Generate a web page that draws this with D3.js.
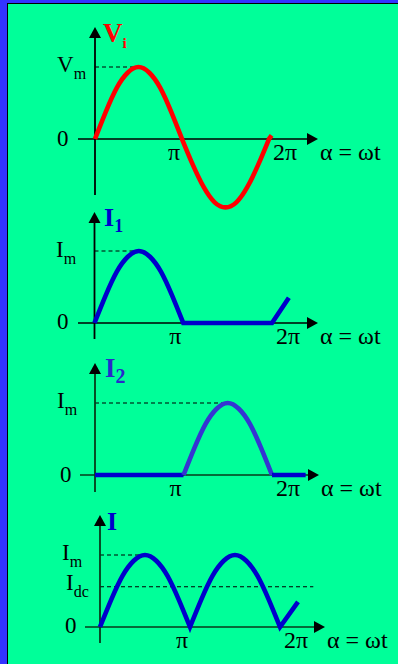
<!DOCTYPE html>
<html>
<head>
<meta charset="utf-8">
<script src="https://cdn.jsdelivr.net/npm/d3@7"></script>
<style>
html,body{margin:0;padding:0;background:#00FF99;}
svg{display:block;}
text{font-family:"Liberation Serif","Times New Roman",serif;}
</style>
</head>
<body>
<svg id="chart" width="398" height="664"></svg>
<script>
// ---- data (alpha in units of π, values normalised to the peak) ----
const alphaPi  = [0, 0.125, 0.25, 0.375, 0.5, 0.625, 0.75, 0.875, 1, 1.125, 1.25, 1.375, 1.5, 1.625, 1.75, 1.875, 2];
const viValues = [0, 0.38, 0.71, 0.92, 1, 0.92, 0.71, 0.38, 0, -0.36, -0.67, -0.88, -0.95, -0.88, -0.67, -0.36, 0];
const i1Values = [0, 0.38, 0.71, 0.92, 1, 0.92, 0.71, 0.38, 0, 0, 0, 0, 0, 0, 0, 0, 0];
const i2Values = [0, 0, 0, 0, 0, 0, 0, 0, 0, 0.38, 0.71, 0.92, 1, 0.92, 0.71, 0.38, 0];
const iValues  = [0, 0.38, 0.71, 0.92, 1, 0.92, 0.71, 0.38, 0, 0.38, 0.71, 0.92, 1, 0.92, 0.71, 0.38, 0];
const viTailAlpha = [2.03], viTailValue = [0.05];
const i1TailAlpha = [2.19], i1TailValue = [0.35];
const i2TailAlpha = [2.38], i2TailValue = [0];
const iTailAlpha  = [2.2],  iTailValue  = [0.35];
const idcLevel = 0.56;
const xTickLabels = ["π", "2π"];
const xAxisTitle = "α = ωt";

// ---- layout ----
const panels = [
  {values: viValues, tailA: viTailAlpha, tailV: viTailValue, color: "#FF0000", flat: "#FF0000",
   x0: 95, x2: 269, y0: 139, y1: 67, top: 27, bottom: 195, xs: 78, xe: 318, axis: "#000",
   title: {main: "V", sub: "i", x: 103, y: 42, size: 27, subSize: 15, subDy: 6, color: "#FF0000"},
   dashes: [{v: 1, to: 0.5}],
   ylabels: [{main: "V", sub: "m", v: 1, x: 57, dy: 5}, {main: "0", v: 0, x: 57, dy: 7}]},
  {values: i1Values, tailA: i1TailAlpha, tailV: i1TailValue, color: "#0000CC", flat: "#0000CC",
   x0: 94.5, x2: 272, y0: 323, y1: 251, top: 212, bottom: 339, xs: 78, xe: 318, axis: "#000",
   title: {main: "I", sub: "1", x: 104, y: 226, size: 26, subSize: 18, subDy: 6, color: "#0000CC"},
   dashes: [{v: 1, to: 0.5}],
   ylabels: [{main: "I", sub: "m", v: 1, x: 56, dy: 6}, {main: "0", v: 0, x: 57, dy: 6}]},
  {values: i2Values, tailA: i2TailAlpha, tailV: i2TailValue, color: "#3535D2", flat: "#0000CC",
   x0: 95, x2: 272, y0: 475, y1: 403, top: 363, bottom: 492, xs: 80, xe: 319, axis: "#073a1a",
   title: {main: "I", sub: "2", x: 105, y: 377, size: 27, subSize: 20, subDy: 6, color: "#2828CC"},
   dashes: [{v: 1, to: 1.5}],
   ylabels: [{main: "I", sub: "m", v: 1, x: 57, dy: 5}, {main: "0", v: 0, x: 60, dy: 7}]},
  {values: iValues, tailA: iTailAlpha, tailV: iTailValue, color: "#0000CC", flat: "#0000CC",
   x0: 100, x2: 280, y0: 627, y1: 555, top: 515, bottom: 643, xs: 85, xe: 325, axis: "#073a1a",
   title: {main: "I", sub: "", x: 107, y: 530, size: 26, subSize: 18, subDy: 6, color: "#0000CC"},
   dashes: [{v: 1, to: 0.5}, {v: idcLevel, to: 2.37}],
   ylabels: [{main: "I", sub: "m", v: 1, x: 62, dy: 5}, {main: "I", sub: "dc", v: idcLevel, x: 66, dy: 3},
             {main: "0", v: 0, x: 65, dy: 6}]}
];

const svg = d3.select("#chart");
// background + frame
svg.append("rect").attr("x", 0).attr("y", 0).attr("width", 398).attr("height", 664).attr("fill", "#00FF99");
svg.append("rect").attr("x", 0).attr("y", 0).attr("width", 7).attr("height", 664).attr("fill", "#3333FF");
svg.append("rect").attr("x", 0).attr("y", 0).attr("width", 398).attr("height", 3).attr("fill", "#3333FF");
svg.append("line").attr("x1", 7.5).attr("x2", 7.5).attr("y1", 3).attr("y2", 664).attr("stroke", "#000").attr("stroke-width", 1);
svg.append("line").attr("x1", 7).attr("x2", 398).attr("y1", 3.5).attr("y2", 3.5).attr("stroke", "#000").attr("stroke-width", 1);

function addLabel(g, x, y, main, sub, size, subSize, subDy, color, bold) {
  const t = g.append("text").attr("x", x).attr("y", y).attr("fill", color)
    .attr("font-size", size).attr("font-weight", bold ? "bold" : "normal");
  t.append("tspan").text(main);
  if (sub) t.append("tspan").attr("dy", subDy).attr("font-size", subSize).text(sub);
}

panels.forEach(p => {
  const g = svg.append("g");
  const x = d3.scaleLinear().domain([0, 2]).range([p.x0, p.x2]);
  const y = d3.scaleLinear().domain([0, 1]).range([p.y0, p.y1]);
  const ax = x(0), ay = y(0);

  // dashed reference lines
  p.dashes.forEach(d => {
    g.append("line").attr("x1", ax).attr("x2", x(d.to)).attr("y1", y(d.v)).attr("y2", y(d.v))
      .attr("stroke", "#000").attr("stroke-width", 1.1).attr("stroke-dasharray", "4,3");
  });

  // axes
  g.append("line").attr("x1", ax).attr("x2", ax).attr("y1", p.bottom).attr("y2", p.top + 8)
    .attr("stroke", p.axis).attr("stroke-width", 1.8);
  g.append("path").attr("d", `M${ax},${p.top} L${ax - 6},${p.top + 11} L${ax + 6},${p.top + 11} Z`).attr("fill", "#000");
  g.append("line").attr("x1", p.xs).attr("x2", p.xe - 8).attr("y1", ay).attr("y2", ay)
    .attr("stroke", p.axis).attr("stroke-width", 1.6);
  g.append("path").attr("d", `M${p.xe},${ay} L${p.xe - 11},${ay - 6} L${p.xe - 11},${ay + 6} Z`).attr("fill", "#000");

  // curve
  const pts = alphaPi.map((a, i) => ({a: a, v: p.values[i]}))
    .concat(p.tailA.map((a, i) => ({a: a, v: p.tailV[i]})));
  const segs = [];
  let cur = [pts[0]];
  for (let k = 1; k < pts.length; k++) {
    cur.push(pts[k]);
    if (pts[k].v === 0) { segs.push(cur); cur = [pts[k]]; }
  }
  if (cur.length > 1) segs.push(cur);
  const line = d3.line().x(d => x(d.a)).y(d => y(d.v)).curve(d3.curveNatural);
  // group consecutive segments of the same colour into one path
  const groups = [];
  segs.forEach(s => {
    const col = s.every(d => d.v === 0) ? p.flat : p.color;
    const dstr = line(s);
    if (groups.length && groups[groups.length - 1].col === col) {
      groups[groups.length - 1].d += dstr.replace(/^M/, "L");
    } else groups.push({col: col, d: dstr});
  });
  groups.forEach(gr => {
    g.append("path").attr("d", gr.d).attr("fill", "none").attr("stroke", gr.col)
      .attr("stroke-width", 4.6).attr("stroke-linejoin", "miter").attr("stroke-miterlimit", 6)
      .attr("stroke-linecap", "butt");
  });

  // title
  const t = p.title;
  addLabel(g, t.x, t.y, t.main, t.sub, t.size, t.subSize, t.subDy, t.color, true);

  // y labels
  p.ylabels.forEach(l => addLabel(g, l.x, y(l.v) + l.dy, l.main, l.sub, 23, 16, 7, "#000", false));

  // x labels
  g.append("text").attr("x", x(1) - 14).attr("y", ay + 21).attr("font-size", 24).attr("fill", "#000").text(xTickLabels[0]);
  g.append("text").attr("x", x(2) + 4).attr("y", ay + 21).attr("font-size", 24).attr("fill", "#000").text(xTickLabels[1]);
  g.append("text").attr("x", p.xe + 2).attr("y", ay + 21).attr("font-size", 24).attr("fill", "#000").text(xAxisTitle);
});
</script>
</body>
</html>
